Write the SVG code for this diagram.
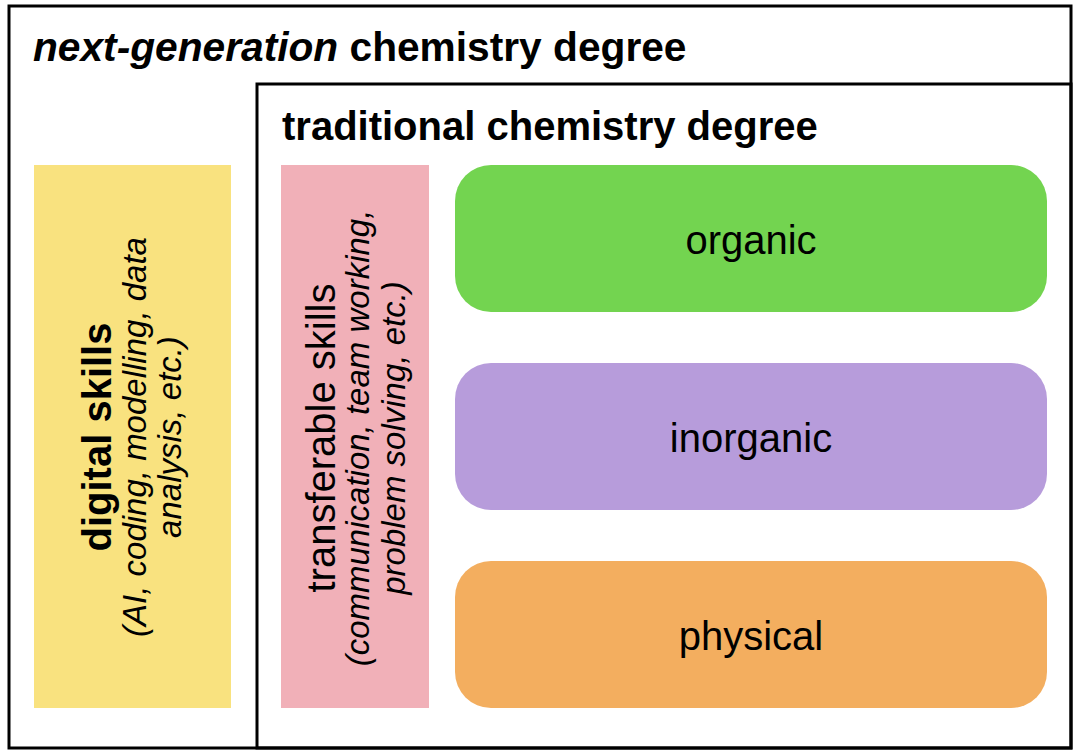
<svg xmlns="http://www.w3.org/2000/svg" width="1080" height="756" viewBox="0 0 1080 756">
  <style>
    .frame { fill: none; stroke: #000; stroke-width: 3; }
    .t { font-family: "Liberation Sans", Arial, Helvetica, sans-serif; fill: #000; }
    .title { font-size: 40px; font-weight: bold; }
    .lab { font-size: 40px; text-anchor: middle; }
    .sub { font-size: 33px; font-style: italic; text-anchor: middle; }
  </style>
  <rect width="1080" height="756" fill="#fff"/>
  <g id="next-generation">
    <rect class="frame" x="9" y="6" width="1062" height="742"/>
    <text class="t title" x="33" y="61" style="font-size:40.7px"><tspan font-style="italic">next-generation</tspan> chemistry degree</text>
  </g>
  <g id="traditional">
    <rect class="frame" x="257" y="84" width="814" height="664"/>
    <text class="t title" x="282" y="140">traditional chemistry degree</text>
  </g>
  <g id="digital-skills">
    <rect x="34" y="165" width="197" height="543" fill="#F9E27F"/>
    <g transform="translate(0,437) rotate(-90)">
      <text class="t lab" x="0" y="111" font-weight="bold">digital skills</text>
      <text class="t sub" x="0" y="146">(AI, coding, modelling, data</text>
      <text class="t sub" x="0" y="181">analysis, etc.)</text>
    </g>
  </g>
  <g id="transferable-skills">
    <rect x="281" y="165" width="148" height="543" fill="#F1B0B8"/>
    <g transform="translate(0,438) rotate(-90)">
      <text class="t lab" x="0" y="335">transferable skills</text>
      <text class="t sub" x="0" y="369">(communication, team working,</text>
      <text class="t sub" x="0" y="405">problem solving, etc.)</text>
    </g>
  </g>
  <g id="organic">
    <rect x="455" y="165" width="592" height="147" rx="36" fill="#73D450"/>
    <text class="t lab" x="751" y="254">organic</text>
  </g>
  <g id="inorganic">
    <rect x="455" y="363" width="592" height="147" rx="36" fill="#B79CDB"/>
    <text class="t lab" x="751" y="452">inorganic</text>
  </g>
  <g id="physical">
    <rect x="455" y="561" width="592" height="147" rx="36" fill="#F3AE5F"/>
    <text class="t lab" x="751" y="650">physical</text>
  </g>
  <g id="connectors"/>
</svg>
